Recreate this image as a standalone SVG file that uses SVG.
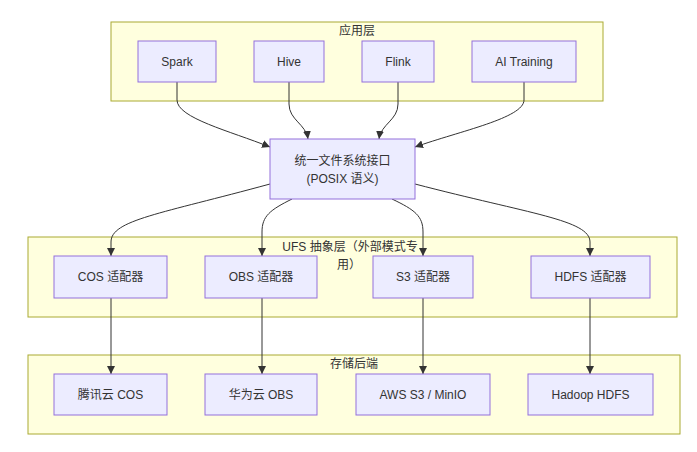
<svg xmlns="http://www.w3.org/2000/svg" width="697" height="452" viewBox="0 0 697 452">
<style>
text{font-family:"Liberation Sans","Noto Sans CJK SC",sans-serif;font-size:12px;fill:#333;text-anchor:middle;dominant-baseline:central}
.cluster{fill:#ffffde;stroke:#aaaa33;stroke-width:1}
.node{fill:#ececff;stroke:#9370db;stroke-width:1}
.edge{fill:none;stroke:#333;stroke-width:1}
</style>
<defs>
<marker id="arr" markerUnits="userSpaceOnUse" markerWidth="10" markerHeight="10" refX="8" refY="5" orient="auto">
<path d="M0,1 L8,5 L0,9 z" fill="#333"/>
</marker>
</defs>
<rect width="697" height="452" fill="#fff"/>
<g id="cluster-app"><rect class="cluster" x="111" y="22" width="492" height="79"/><text x="357" y="31">应用层</text></g>
<g id="cluster-ufs"><rect class="cluster" x="28" y="237" width="649" height="80"/><text x="350" y="247">UFS 抽象层（外部模式专</text><text x="349" y="265">用）</text></g>
<g id="cluster-storage"><rect class="cluster" x="28" y="355" width="652" height="79"/><text x="354" y="364">存储后端</text></g>
<g id="connectors">
<path class="edge" marker-end="url(#arr)" d="M177,82 V100 C177,118 230,131 270,147"/>
<path class="edge" marker-end="url(#arr)" d="M289,82 V104 C289,120 306,124 308,139"/>
<path class="edge" marker-end="url(#arr)" d="M398,82 V104 C398,120 381,124 379,139"/>
<path class="edge" marker-end="url(#arr)" d="M524,82 V100 C524,118 460,131 415,147"/>
<path class="edge" marker-end="url(#arr)" d="M270,184 C160,214 111,220 111,242 V256"/>
<path class="edge" marker-end="url(#arr)" d="M292,199 C270,210 262,216 262,232 V256"/>
<path class="edge" marker-end="url(#arr)" d="M392,199 C415,210 423,216 423,232 V256"/>
<path class="edge" marker-end="url(#arr)" d="M415,184 C530,214 590,220 590,242 V256"/>
<path class="edge" marker-end="url(#arr)" d="M111,298 V374"/>
<path class="edge" marker-end="url(#arr)" d="M262,298 V374"/>
<path class="edge" marker-end="url(#arr)" d="M423,298 V374"/>
<path class="edge" marker-end="url(#arr)" d="M590,298 V374"/>
</g>
<g id="spark"><rect class="node" x="138" y="41" width="78" height="41"/><text x="177" y="61.5">Spark</text></g>
<g id="hive"><rect class="node" x="254" y="41" width="70" height="41"/><text x="289" y="61.5">Hive</text></g>
<g id="flink"><rect class="node" x="362" y="41" width="72" height="41"/><text x="398" y="61.5">Flink</text></g>
<g id="ai"><rect class="node" x="472" y="41" width="104" height="41"/><text x="524" y="61.5">AI Training</text></g>
<g id="ufs-api"><rect class="node" x="270" y="139" width="145" height="60"/><text x="342.5" y="161">统一文件系统接口</text><text x="342.5" y="179">(POSIX 语义)</text></g>
<g id="cos-adapter"><rect class="node" x="54" y="256" width="113" height="42"/><text x="110.5" y="277">COS 适配器</text></g>
<g id="obs-adapter"><rect class="node" x="205" y="256" width="112" height="42"/><text x="261" y="277">OBS 适配器</text></g>
<g id="s3-adapter"><rect class="node" x="373" y="256" width="100" height="42"/><text x="423" y="277">S3 适配器</text></g>
<g id="hdfs-adapter"><rect class="node" x="531" y="256" width="119" height="42"/><text x="590.5" y="277">HDFS 适配器</text></g>
<g id="tencent-cos"><rect class="node" x="54" y="374" width="113" height="41"/><text x="110.5" y="394.5">腾讯云 COS</text></g>
<g id="huawei-obs"><rect class="node" x="205" y="374" width="112" height="41"/><text x="261" y="394.5">华为云 OBS</text></g>
<g id="aws-s3"><rect class="node" x="356" y="374" width="134" height="41"/><text x="423" y="394.5">AWS S3 / MinIO</text></g>
<g id="hadoop-hdfs"><rect class="node" x="528" y="374" width="125" height="41"/><text x="590.5" y="394.5">Hadoop HDFS</text></g>
</svg>
